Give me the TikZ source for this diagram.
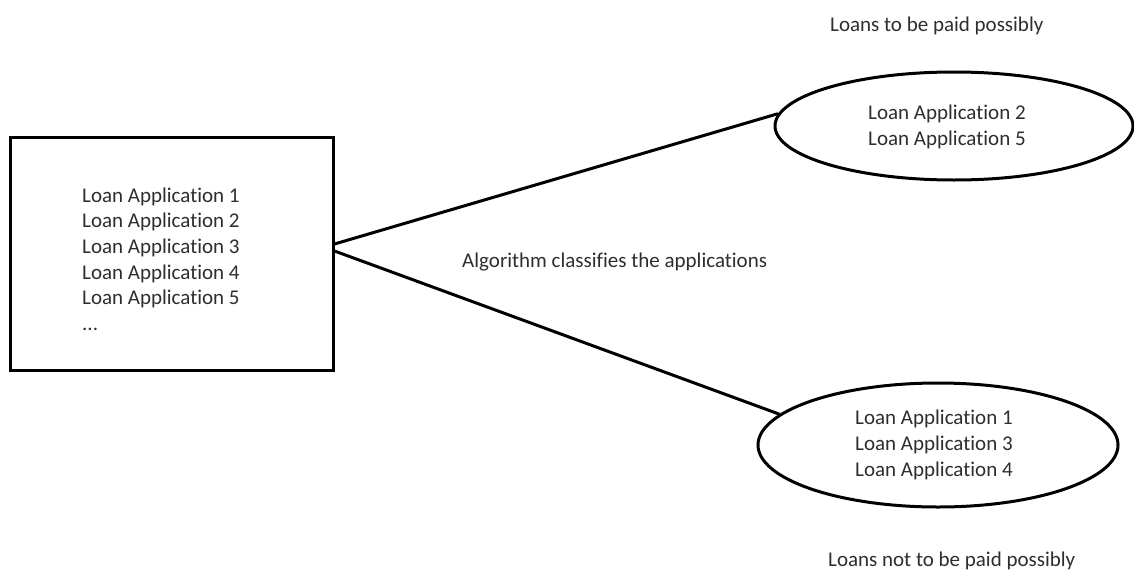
\documentclass[tikz,border=0pt]{standalone}
\usepackage{fontspec}
\setmainfont{Carlito}[Ligatures={NoCommon}]
\usetikzlibrary{shapes.geometric}
\begin{document}
\begin{tikzpicture}[x=1pt,y=-1pt,
  outline/.style={draw=black,line width=3pt},
  label/.style={inner sep=0pt,anchor=base west,align=left,text=black!82,
    font=\fontsize{21}{25.7}\selectfont},
  oval/.style={outline,ellipse,inner sep=0pt},
  link/.style={draw=black,line width=3pt}]
\useasboundingbox[fill=white] (0,0) rectangle (1134,570);

% source box with all applications
\node[outline,rectangle,minimum width=323pt,minimum height=233pt,inner sep=0pt]
  (box) at (171.5,253.5) {};
% multi-line labels are anchored at the baseline of their last line
\node[label] (apps) at (82,330.5) {Loan Application 1\\Loan Application 2\\Loan Application 3\\Loan Application 4\\Loan Application 5\\...};

% two result groups
\node[oval,minimum width=358pt,minimum height=108pt] (good) at (954,126) {};
\node[oval,minimum width=360pt,minimum height=124pt] (bad) at (938,445) {};
\node[label] (goodtext) at (868,145.5) {Loan Application 2\\Loan Application 5};
\node[label] (badtext) at (855,476) {Loan Application 1\\Loan Application 3\\Loan Application 4};

% captions
\node[label] (goodcap) at (830,31) {Loans to be paid possibly};
\node[label] (badcap) at (828,566) {Loans not to be paid possibly};
\node[label] (algo) at (462,267) {Algorithm classifies the applications};

% classification links
\draw[link] ([yshift=9.5pt]box.east) -- (good.176);
\draw[link] ([yshift=2.5pt]box.east) -- (bad.169);
\end{tikzpicture}
\end{document}
